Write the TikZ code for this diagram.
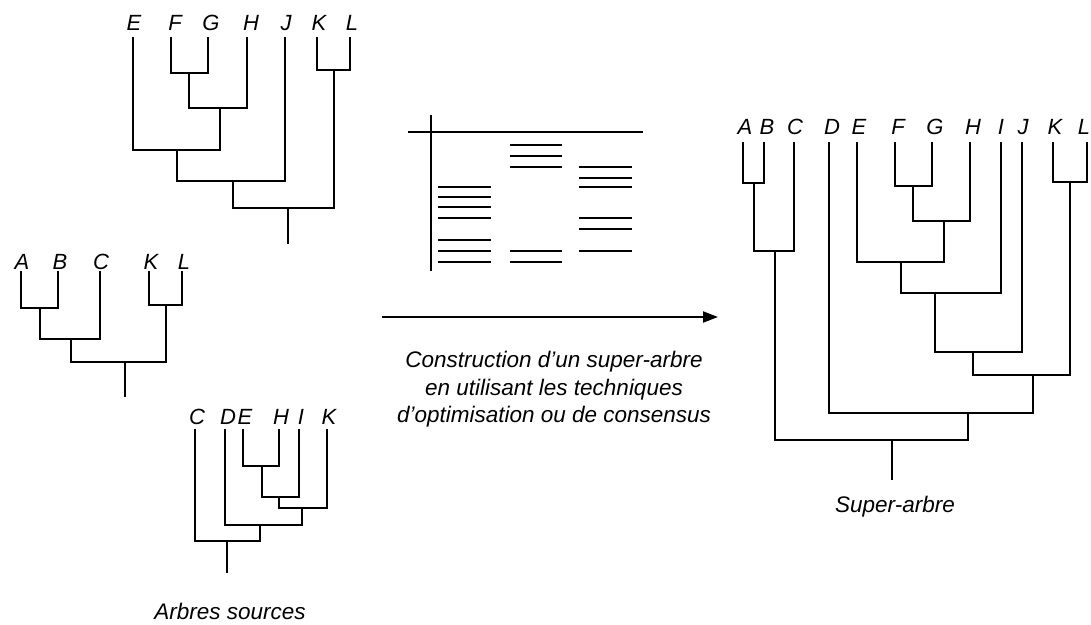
\documentclass[tikz,border=0pt]{standalone}
\usepackage{fontspec}
\setmainfont{Liberation Sans}
\usetikzlibrary{arrows.meta}
\newcommand\treejoin[3]{\draw[treeline] (#1) |- (#2) -| (#3);}
\tikzset{
  treeline/.style={line width=1.4pt, line cap=rect},
  leaf/.style={font=\fontsize{22}{26}\selectfont\itshape, inner sep=0pt},
  caption/.style={font=\fontsize{22.5}{27}\selectfont\itshape, inner sep=0pt, anchor=base},
  bar/.style={line width=2pt},
}
\begin{document}
\begin{tikzpicture}[x=1pt,y=-1pt]
\useasboundingbox (0,0) rectangle (1091,624);
% ---------- Tree 1 ----------
\foreach \n/\x/\lx in {E/133/134, F/171/175, G/208/211, H/247/251, J/285/286, K/317/319, L/350/352}{
  \node[leaf] (t1l\n) at (\lx,23) {\n};
  \coordinate (t1\n) at (\x,38);
}
\coordinate (t1FG) at (189,73);
\coordinate (t1FGH) at (220,108);
\coordinate (t1EH) at (177,150);
\coordinate (t1EJ) at (233,181);
\coordinate (t1KL) at (334,70);
\coordinate (t1root) at (288,208);
\coordinate (t1base) at (288,243);
\treejoin{t1F}{t1FG}{t1G}
\treejoin{t1FG}{t1FGH}{t1H}
\treejoin{t1E}{t1EH}{t1FGH}
\treejoin{t1EH}{t1EJ}{t1J}
\treejoin{t1K}{t1KL}{t1L}
\treejoin{t1EJ}{t1root}{t1KL}
\draw[treeline] (t1root) -- (t1base);
% ---------- Tree 2 ----------
\foreach \n/\x/\lx in {A/21/22, B/58/60, C/100/101, K/149/151, L/182/184}{
  \node[leaf] (t2l\n) at (\lx,262) {\n};
  \coordinate (t2\n) at (\x,272);
}
\coordinate (t2AB) at (40,308);
\coordinate (t2ABC) at (71,339);
\coordinate (t2KL) at (166,305);
\coordinate (t2root) at (125,362);
\coordinate (t2base) at (125,396);
\treejoin{t2A}{t2AB}{t2B}
\treejoin{t2AB}{t2ABC}{t2C}
\treejoin{t2K}{t2KL}{t2L}
\treejoin{t2ABC}{t2root}{t2KL}
\draw[treeline] (t2root) -- (t2base);
% ---------- Tree 3 ----------
\foreach \n/\x/\lx in {C/195/197, D/225/228, E/243/245, H/279/281, I/299/301, K/327/329}{
  \node[leaf] (t3l\n) at (\lx,417) {\n};
  \coordinate (t3\n) at (\x,430);
}
\coordinate (t3EH) at (262,466);
\coordinate (t3EI) at (279,497);
\coordinate (t3EK) at (302,508);
\coordinate (t3DK) at (260,525);
\coordinate (t3root) at (227,541);
\coordinate (t3base) at (227,572);
\treejoin{t3E}{t3EH}{t3H}
\treejoin{t3EH}{t3EI}{t3I}
\treejoin{t3EI}{t3EK}{t3K}
\treejoin{t3D}{t3DK}{t3EK}
\treejoin{t3C}{t3root}{t3DK}
\draw[treeline] (t3root) -- (t3base);
\node[caption] (src) at (230,619) {Arbres sources};
% ---------- Table ----------
\coordinate (vtop) at (431,115);
\coordinate (vbot) at (431,271);
\coordinate (hl) at (408,132);
\coordinate (hr) at (643,132);
\draw[bar] (vtop) -- (vbot);
\draw[bar] (hl) -- (hr);
\foreach \y [count=\i] in {187,197,207,218,240,251,262}{
  \coordinate (ca\i) at (438,\y); \coordinate (cb\i) at (491,\y);
  \draw[bar] (ca\i) -- (cb\i);
}
\foreach \y [count=\i] in {145,156,167,251,262}{
  \coordinate (da\i) at (510,\y); \coordinate (db\i) at (562,\y);
  \draw[bar] (da\i) -- (db\i);
}
\foreach \y [count=\i] in {167,178,187,218,229,251}{
  \coordinate (ea\i) at (579,\y); \coordinate (eb\i) at (632,\y);
  \draw[bar] (ea\i) -- (eb\i);
}
% ---------- Arrow ----------
\coordinate (arrS) at (382,317);
\coordinate (arrE) at (718,317);
\draw[line width=2pt, -{Triangle[length=15pt,width=11pt]}] (arrS) -- (arrE);
\node[caption] (cap1) at (554,367) {Construction d’un super-arbre};
\node[caption] (cap2) at (554,395) {en utilisant les techniques};
\node[caption] (cap3) at (554,422) {d’optimisation ou de consensus};
% ---------- Super tree ----------
\foreach \n/\x/\lx in {A/743/745, B/764/767, C/794/795, D/829/832, E/857/859, F/895/898, G/932/935, H/970/973, I/1001/1001, J/1022/1023, K/1053/1055, L/1087/1084}{
  \node[leaf] (sl\n) at (\lx,127) {\n};
  \coordinate (s\n) at (\x,143);
}
\coordinate (sAB) at (754,183);
\coordinate (sABC) at (775,251);
\coordinate (sFG) at (913,186);
\coordinate (sFGH) at (944,221);
\coordinate (sEH) at (901,262);
\coordinate (sEI) at (935,293);
\coordinate (sEJ) at (973,352);
\coordinate (sKL) at (1070,182);
\coordinate (sEL) at (1033,375);
\coordinate (sDL) at (968,413);
\coordinate (sroot) at (892,440);
\coordinate (sbase) at (892,479);
\treejoin{sA}{sAB}{sB}
\treejoin{sAB}{sABC}{sC}
\treejoin{sF}{sFG}{sG}
\treejoin{sFG}{sFGH}{sH}
\treejoin{sE}{sEH}{sFGH}
\treejoin{sEH}{sEI}{sI}
\treejoin{sEI}{sEJ}{sJ}
\treejoin{sK}{sKL}{sL}
\treejoin{sEJ}{sEL}{sKL}
\treejoin{sD}{sDL}{sEL}
\treejoin{sABC}{sroot}{sDL}
\draw[treeline] (sroot) -- (sbase);
\node[caption] (sup) at (895,512) {Super-arbre};
\end{tikzpicture}
\end{document}
